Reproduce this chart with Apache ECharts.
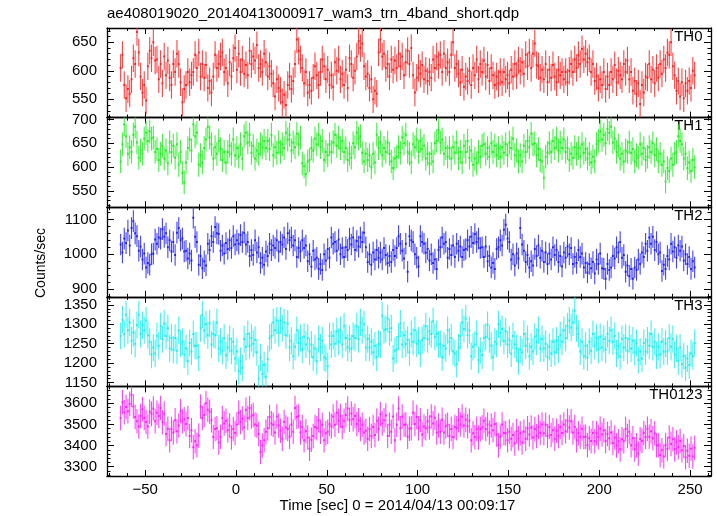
<!DOCTYPE html>
<html><head><meta charset="utf-8">
<script src="https://cdn.jsdelivr.net/npm/echarts@6/dist/echarts.min.js"></script>
<style>html,body{margin:0;padding:0;background:#fff}#c{width:717px;height:516px}</style>
</head><body><div id="c"></div>
<script>
// Light curve: 1-s bins starting at t = -64 s
const binStart = -63.5;
const binWidth = 1;

const th0 = [
605,628,575,552,568,560,585,622,612,668,
632,590,562,575,548,608,635,622,650,618,
620,585,612,578,625,592,618,588,575,612,
598,630,612,580,545,568,575,598,580,592,
598,628,605,632,590,612,588,610,570,582,
562,590,628,605,612,625,632,598,605,578,
615,590,622,640,602,630,598,620,595,610,
592,635,612,625,618,645,605,612,598,630,
615,590,608,595,578,555,585,570,565,545,
558,540,575,590,568,582,612,655,635,620,
605,578,598,562,575,565,588,608,592,575,
598,620,608,585,602,575,592,572,615,600,
620,585,595,575,602,570,622,612,588,600,
625,652,640,648,608,590,595,570,585,550,
565,560,632,655,625,630,605,612,590,620,
602,618,605,630,608,625,592,615,635,612,
640,592,562,588,605,595,610,585,600,582,
598,588,620,605,625,610,628,598,630,605,
615,598,628,650,605,612,595,580,602,572,
590,582,600,575,605,592,620,585,612,598,
618,590,610,582,605,592,575,590,578,598,
580,598,585,592,578,602,590,612,592,618,
600,615,595,628,608,632,605,630,648,610,
608,588,602,585,612,580,602,588,610,590,
580,602,592,598,585,598,580,600,612,598,
620,605,628,612,638,620,630,615,622,598,
612,582,590,570,585,575,598,568,590,575,
598,585,610,580,600,592,585,612,598,618,
585,598,565,582,560,578,542,575,562,590,
588,612,585,602,578,605,588,612,595,620,
605,632,628,650,608,592,565,582,555,580,
552,578,565,582,570,600,592];

const th1 = [
612,648,690,665,628,642,632,668,685,652,
620,635,628,660,672,655,675,660,662,632,
638,615,628,645,618,635,608,652,632,645,
620,648,605,632,588,568,610,640,658,635,
690,665,672,605,625,610,640,658,685,662,
648,618,642,628,655,638,615,632,610,632,
645,628,658,625,640,622,648,618,665,672,
652,668,630,645,618,635,628,648,642,655,
640,655,638,668,625,642,630,652,632,648,
640,672,658,668,635,652,642,670,648,662,
608,602,585,612,615,640,635,660,648,668,
642,655,615,632,625,648,632,652,668,645,
662,640,655,632,640,615,628,620,650,642,
672,660,665,630,612,628,615,625,600,628,
610,668,640,652,625,640,632,652,628,612,
598,618,622,642,630,662,650,668,632,628,
610,648,642,658,632,655,638,645,618,628,
608,628,612,650,655,678,652,658,628,640,
622,640,618,642,630,652,618,632,610,645,
632,655,620,635,605,618,608,632,622,645,
648,628,640,622,650,632,645,625,640,622,
642,630,648,625,652,640,660,625,635,612,
625,612,645,632,655,642,670,648,650,625,
638,615,612,578,622,630,650,632,655,640,
660,635,652,640,658,632,640,615,628,620,
642,628,640,622,648,630,638,618,628,610,
622,612,648,655,675,658,668,650,680,672,
685,652,660,632,645,618,628,612,635,632,
652,630,638,612,625,620,648,628,640,615,
622,642,632,650,625,638,612,628,605,612,
570,598,592,618,605,628,632,665,655,648,
618,628,598,610,592,615,600];

const th2 = [
1028,1005,1045,1032,1068,1025,1075,1095,1060,1052,
1010,1022,985,1002,962,975,970,1000,1002,1042,
1030,1048,1045,1072,1050,1060,1020,1040,1008,1035,
998,1062,1075,1040,1045,1008,1010,988,1002,982,
1105,1050,1035,970,995,960,980,968,1030,1012,
1052,1035,1078,1060,1058,1010,1025,1002,1032,1015,
1040,1018,1052,1028,1040,1030,1055,1035,1062,1028,
1035,995,1012,998,1040,1005,1020,975,990,970,
1008,995,1030,1012,1025,1018,1040,1008,1035,1028,
1048,1015,1060,1040,1048,1025,1040,992,1018,1008,
1040,1018,1025,980,1000,965,1010,985,990,958,
972,955,1000,982,1015,990,1048,1030,1035,1010,
1042,1000,1018,992,1020,1012,1045,1028,1048,1012,
1038,1022,1048,1035,1062,1020,978,1000,970,1005,
985,1012,990,1005,985,1018,998,975,995,978,
1012,995,1018,1052,1030,1010,988,1030,950,1052,
1040,1035,1000,990,965,1052,1035,1030,1005,1015,
982,1000,975,985,958,1012,1020,1048,1030,1035,
990,1015,998,1025,992,1030,1010,1022,992,1012,
1015,1040,1022,1050,1032,1058,1035,1045,1018,1020,
992,1022,980,995,962,975,958,1015,1020,1040,
1025,1070,1085,1045,1035,985,1000,968,1002,988,
1075,1028,1010,978,998,962,980,968,1015,995,
1025,990,1010,978,1005,972,1002,985,1020,998,
1012,978,995,965,1005,990,1022,1000,1018,972,
992,975,1012,992,1002,962,975,948,972,960,
978,945,985,972,1002,960,958,930,972,955,
962,995,988,1020,1005,1035,990,998,950,968,
938,958,930,962,955,985,972,1005,992,1030,
1010,1048,1030,1050,1012,1035,1000,1005,952,970,
958,995,985,1030,1008,1020,990,1025,1010,1022,
982,1000,972,992,958,980,962];

const th3 = [
1270,1312,1275,1325,1285,1305,1258,1278,1250,1298,
1325,1275,1298,1285,1310,1272,1255,1222,1240,1225,
1270,1245,1295,1262,1302,1270,1290,1238,1265,1235,
1265,1232,1285,1250,1255,1222,1238,1205,1252,1230,
1275,1245,1245,1215,1290,1325,1285,1300,1272,1302,
1248,1275,1272,1305,1238,1255,1232,1265,1220,1240,
1262,1232,1255,1212,1230,1180,1205,1188,1262,1242,
1275,1245,1265,1250,1260,1228,1160,1215,1172,1195,
1165,1210,1265,1270,1305,1285,1310,1278,1310,1290,
1305,1272,1302,1240,1258,1218,1242,1285,1252,1265,
1235,1268,1248,1265,1230,1248,1215,1238,1205,1262,
1240,1258,1215,1212,1192,1270,1248,1270,1250,1282,
1255,1285,1248,1295,1265,1240,1262,1238,1270,1265,
1295,1262,1305,1285,1300,1240,1262,1240,1255,1228,
1245,1215,1250,1248,1322,1285,1288,1315,1280,1290,
1212,1232,1235,1268,1302,1248,1272,1250,1260,1228,
1275,1255,1285,1250,1258,1225,1260,1265,1295,1262,
1282,1275,1308,1268,1275,1248,1250,1215,1245,1238,
1285,1255,1265,1230,1225,1198,1240,1270,1305,1288,
1315,1272,1285,1218,1242,1248,1275,1208,1232,1220,
1265,1268,1298,1262,1245,1215,1255,1250,1300,1278,
1288,1258,1282,1248,1260,1225,1270,1248,1238,1205,
1235,1228,1275,1245,1262,1218,1242,1230,1268,1255,
1285,1238,1262,1238,1250,1215,1242,1225,1255,1228,
1258,1235,1272,1255,1285,1265,1295,1310,1292,1305,
1335,1290,1275,1230,1255,1218,1245,1215,1255,1232,
1275,1245,1265,1235,1268,1240,1262,1235,1275,1258,
1285,1255,1270,1225,1245,1218,1262,1240,1265,1232,
1262,1238,1258,1228,1252,1208,1230,1212,1252,1230,
1258,1245,1275,1242,1255,1220,1242,1222,1255,1230,
1250,1230,1265,1242,1262,1222,1238,1205,1240,1198,
1218,1188,1212,1195,1225,1218,1252];

const th0123 = [
3530,3605,3558,3582,3562,3598,3640,3585,3535,3515,
3490,3540,3572,3530,3512,3490,3560,3550,3575,3515,
3555,3540,3578,3510,3552,3455,3480,3425,3478,3462,
3520,3468,3495,3562,3515,3525,3502,3530,3445,3472,
3392,3420,3402,3448,3585,3530,3545,3600,3570,3560,
3520,3440,3478,3482,3415,3442,3530,3505,3518,3472,
3495,3438,3478,3460,3500,3555,3512,3528,3485,3570,
3530,3578,3538,3545,3500,3495,3455,3370,3400,3425,
3465,3482,3535,3505,3498,3462,3538,3495,3470,3432,
3512,3485,3478,3442,3500,3465,3578,3535,3540,3462,
3488,3425,3468,3438,3385,3428,3445,3488,3482,3520,
3465,3498,3425,3458,3465,3502,3492,3538,3498,3555,
3518,3540,3488,3518,3545,3575,3522,3552,3525,3540,
3502,3520,3478,3498,3462,3470,3432,3478,3445,3488,
3450,3518,3480,3548,3505,3520,3542,3445,3498,3465,
3538,3425,3498,3575,3482,3538,3498,3500,3442,3480,
3482,3555,3502,3535,3482,3520,3452,3490,3482,3515,
3485,3538,3505,3532,3462,3495,3465,3522,3462,3492,
3498,3445,3478,3440,3488,3482,3520,3500,3538,3495,
3522,3492,3518,3425,3458,3440,3480,3438,3478,3485,
3518,3478,3500,3462,3495,3472,3502,3452,3402,3442,
3500,3460,3458,3425,3465,3432,3450,3410,3468,3435,
3458,3415,3465,3432,3482,3452,3485,3438,3478,3445,
3488,3460,3500,3458,3498,3445,3488,3450,3472,3432,
3470,3445,3488,3460,3500,3468,3518,3485,3515,3462,
3488,3425,3458,3442,3480,3440,3442,3402,3435,3422,
3460,3420,3458,3440,3480,3452,3472,3422,3455,3435,
3462,3412,3438,3400,3420,3382,3430,3420,3478,3445,
3465,3402,3435,3382,3402,3362,3430,3422,3460,3440,
3480,3442,3468,3435,3458,3402,3402,3355,3378,3348,
3402,3385,3438,3408,3430,3382,3415,3392,3422,3378,
3398,3345,3375,3352,3385,3348,3390];

const panelNames = ['TH0', 'TH1', 'TH2', 'TH3', 'TH0123'];
const panelValues = [th0, th1, th2, th3, th0123];
const errHalf = [24, 25, 31, 35, 58];
const yMin = [518, 516, 878, 1140, 3256];
const yMax = [675, 704, 1135, 1371, 3680];
const yStep = [50, 50, 100, 50, 100];
const xMin = -71, xMax = 261.5, xStep = 50;
const titleText = 'ae408019020_20140413000917_wam3_trn_4band_short.qdp';
const xTitle = 'Time [sec] 0 = 2014/04/13 00:09:17';
const yTitle = 'Counts/sec';

const lineColors = ['#ff2020', '#20ee20', '#2020ff', '#20eeee', '#ff20ff'];
const errColors = ['rgba(255,45,45,0.9)', 'rgba(45,240,45,0.9)', 'rgba(45,45,255,0.9)', 'rgba(45,240,240,0.9)', 'rgba(255,45,255,0.9)'];

const FONT = '"Liberation Sans", Arial, Helvetica, sans-serif';
const L = 107, W = 604, T0 = 28, H = 89.6;

function fmtNum(v) { return v < 0 ? '\u2212' + Math.abs(v) : String(v); }

const grids = [], xAxes = [], yAxes = [], series = [], graphics = [];
for (let i = 0; i < 5; i++) {
  grids.push({ left: L, top: T0 + H * i, width: W, height: H, show: false, containLabel: false });
  const tick = { inside: true, length: 6, lineStyle: { color: '#000', width: 1 } };
  const minor = { show: true, splitNumber: 5, length: 3, lineStyle: { color: '#000', width: 1 } };
  const axLine = { show: true, onZero: false, lineStyle: { color: '#000', width: 1.3 } };
  const baseX = { type: 'value', gridIndex: i, min: xMin, max: xMax, splitNumber: Math.round((xMax - xMin) / xStep),
    axisLine: axLine, axisTick: tick, minorTick: minor, splitLine: { show: false }, minorSplitLine: { show: false } };
  xAxes.push(Object.assign({}, baseX, { position: 'bottom',
    axisLabel: { show: i === 4, margin: 6, fontSize: 15, color: '#000', fontFamily: FONT,
      formatter: v => (Math.abs(v % xStep) < 1e-9 ? fmtNum(v) : ''), showMinLabel: false, showMaxLabel: false } }));
  xAxes.push(Object.assign({}, baseX, { position: 'top', axisLabel: { show: false } }));
  const yTick = { inside: true, length: 7, lineStyle: { color: '#000', width: 1 } };
  const yMinor = { show: true, splitNumber: 5, length: 3.5, lineStyle: { color: '#000', width: 1 } };
  const baseY = { type: 'value', gridIndex: i, min: yMin[i], max: yMax[i], splitNumber: Math.round((yMax[i] - yMin[i]) / yStep[i]),
    axisLine: axLine, axisTick: yTick, minorTick: yMinor, splitLine: { show: false }, minorSplitLine: { show: false } };
  const step = yStep[i];
  yAxes.push(Object.assign({}, baseY, { position: 'left',
    axisLabel: { show: true, margin: 10, fontSize: 15, color: '#000', fontFamily: FONT,
      formatter: v => (Math.abs(v % step) < 1e-9 ? String(v) : ''), showMinLabel: false, showMaxLabel: false } }));
  yAxes.push(Object.assign({}, baseY, { position: 'right', axisLabel: { show: false } }));

  const eh = errHalf[i];
  const data = panelValues[i].map((v, k) => [binStart + k * binWidth, v, eh]);
  const col = lineColors[i], ecol = errColors[i];
  series.push({
    type: 'custom', xAxisIndex: 2 * i, yAxisIndex: 2 * i, clip: true, data: data,
    renderItem: function (params, api) {
      const x = api.value(0), y = api.value(1), e = api.value(2);
      const pT = api.coord([x, y + e]);
      const pB = api.coord([x, y - e]);
      const pL = api.coord([x - binWidth / 2, y]);
      const pR = api.coord([x + binWidth / 2, y]);
      return { type: 'group', children: [
        { type: 'line', shape: { x1: pT[0], y1: pT[1], x2: pB[0], y2: pB[1] }, style: { stroke: ecol, lineWidth: 1.1 } },
        { type: 'line', shape: { x1: pL[0], y1: pL[1], x2: pR[0], y2: pR[1] }, style: { stroke: col, lineWidth: 2 } }
      ] };
    }
  });
  graphics.push({ type: 'text', right: 717 - 702.5, top: T0 + H * i + 9.2 - 8,
    style: { text: panelNames[i], font: '15px ' + FONT, fill: '#000' } });
}

graphics.push({ type: 'text', left: 107, top: 14.7 - 8, style: { text: titleText, font: '15px ' + FONT, fill: '#000' } });
graphics.push({ type: 'text', x: 397.5, y: 505.7, style: { text: xTitle, font: '15px ' + FONT, fill: '#000', align: 'center', verticalAlign: 'middle' } });
graphics.push({ type: 'text', x: 41, y: 263, rotation: Math.PI / 2, style: { text: yTitle, font: '14px ' + FONT, fill: '#000', align: 'center', verticalAlign: 'middle' } });

const chart = echarts.init(document.getElementById('c'), null, { renderer: 'canvas', width: 717, height: 516 });
chart.setOption({
  animation: false,
  backgroundColor: '#fff',
  grid: grids, xAxis: xAxes, yAxis: yAxes, series: series, graphic: graphics
});
</script>
</body></html>
